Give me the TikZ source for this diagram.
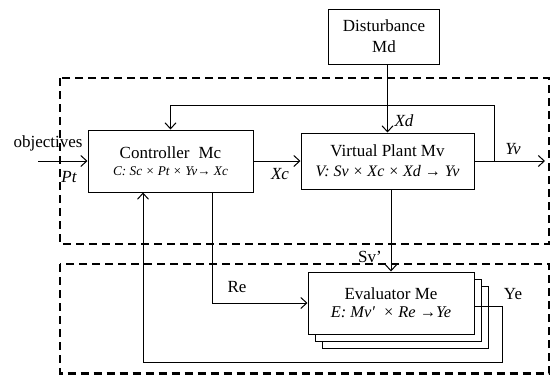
\documentclass[tikz,border=0pt]{standalone}
\usepackage{fontspec}
\setmainfont{Liberation Serif}
\usetikzlibrary{arrows.meta,positioning,calc}
\tikzset{
  blk/.style={draw, line width=1pt, fill=white, align=center, inner sep=0pt,
    font=\fontsize{17}{21}\selectfont},
  conn/.style={line width=1pt, -{Straight Barb[length=6pt,width=11pt,line width=1pt]}},
  region/.style={draw, line width=2.2pt, dash pattern=on 8pt off 5pt},
  lbl/.style={font=\fontsize{17}{20}\selectfont, inner sep=0pt},
  ilbl/.style={font=\fontsize{17}{20}\selectfont\itshape, inner sep=0pt},
}
\begin{document}
\begin{tikzpicture}[x=1pt,y=-1pt]
\useasboundingbox (0,0) rectangle (550,375);

% dashed regions
\draw[region] (60,78) rectangle (549,244);
\draw[region] (60,264) rectangle (549,373.5);

% blocks
\node[blk, minimum width=111pt, minimum height=55pt] (dist) at (384,36.5)
  {Disturbance\\Md};
\node[blk, minimum width=165pt, minimum height=62pt] (ctrl) at (170.5,161)
  {Controller\hspace{9pt}Mc\\[-4pt]{\fontsize{13.3}{15}\selectfont\itshape C: Sc × Pt × Yv→ Xc}};
\node[blk, minimum width=173pt, minimum height=56pt] (plant) at (387.5,161)
  {Virtual Plant Mv\\[-1pt]{\fontsize{16}{20}\selectfont\itshape V: Sv × Xc × Xd → Yv}};

% evaluator stack
\node[blk, minimum width=166pt, minimum height=62pt] (eval3) at (405,317) {};
\node[blk, minimum width=166pt, minimum height=62pt] (eval2) at (398,310) {};
\node[blk, minimum width=166pt, minimum height=62pt] (eval) at (391,303)
  {Evaluator Me\\[-3pt]{\fontsize{16.4}{20}\selectfont\itshape E: Mv′ \ × Re →Ye}};

% free ends
\coordinate (objin) at (38,161);
\coordinate (yvout) at (545,161);
\coordinate (tap) at (494,161);

% connectors
\draw[conn] (objin) -- (ctrl.west);
\draw[conn] (ctrl.east) -- (plant.west);
\draw[conn] (plant.north |- dist.south) -- (plant.north);
\draw[conn] (plant.east) -- (yvout);
\draw[conn] (tap) -- (tap |- 0,105) -- (ctrl.north |- 0,105) -- (ctrl.north);
\draw[conn] (eval.north |- plant.south) -- (eval.north);
\draw[conn] ([xshift=41.5pt]ctrl.south) |- (eval.west);
\draw[conn] ([yshift=-3pt]eval.east) -- (502,306) -- (502,362) -- (143,362)
  -- (ctrl.south -| 143,0);

% labels
\node[lbl] (lobj) at (48,143) {objectives};
\node[ilbl] (lpt) at (69,177) {Pt};
\node[ilbl] (lxc) at (280,174) {Xc};
\node[ilbl] (lxd) at (404,121) {Xd};
\node[ilbl] (lyv) at (513,149) {Yv};
\node[lbl] (lsv) at (370,257) {Sv’};
\node[lbl] (lre) at (237,287) {Re};
\node[lbl] (lye) at (513,294) {Ye};
\end{tikzpicture}
\end{document}
